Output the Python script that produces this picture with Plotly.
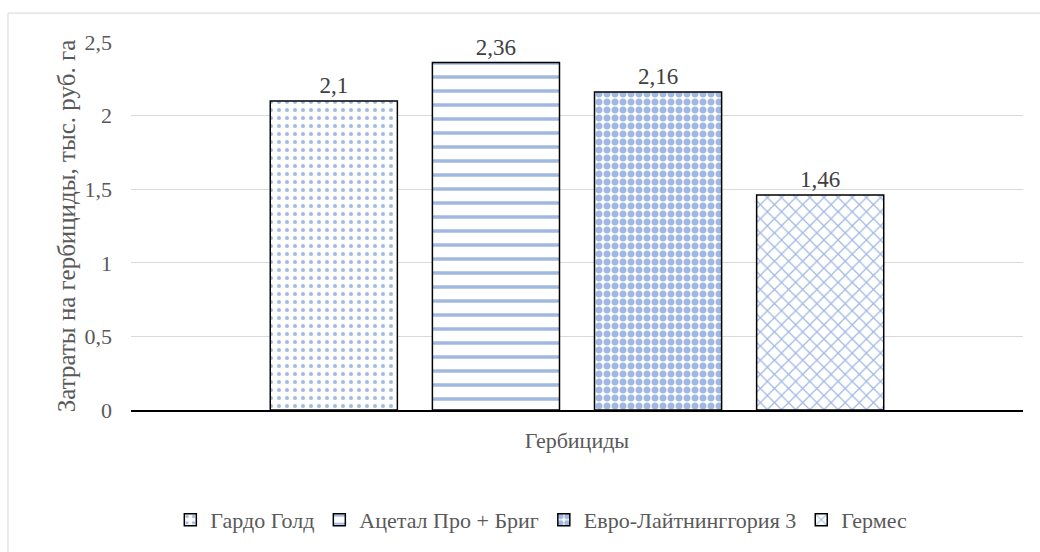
import plotly.graph_objects as go

# Herbicide costs, thousand roubles per hectare
category = ["Гербициды"]
herbicides = ["Гардо Голд", "Ацетал Про + Бриг", "Евро-Лайтнинггория 3", "Гермес"]
costs = [2.1, 2.36, 2.16, 1.46]

y_ticks = [0, 0.5, 1, 1.5, 2, 2.5]
y_title = "Затраты на гербициды, тыс. руб. га"
x_title = "Гербициды"

blue = "#4472C4"
font_family = "Liberation Serif, Times New Roman, serif"

patterns = [
    dict(shape=".", size=8, solidity=0.2),
    dict(shape="-", size=14, solidity=0.25),
    dict(shape=".", size=8, solidity=0.6),
    dict(shape="x", size=10, solidity=0.24),
]

fig = go.Figure()
for name, val, pat in zip(herbicides, costs, patterns):
    fig.add_trace(go.Bar(
        x=category,
        y=[val],
        name=name,
        marker=dict(
            color="white",
            line=dict(color="black", width=1.5),
            pattern=dict(fgcolor=blue, bgcolor="white", fillmode="overlay", **pat),
        ),
        texttemplate="%{y}",
        textposition="outside",
        textfont=dict(family=font_family, size=23, color="#404040"),
        cliponaxis=False,
    ))

fig.update_layout(
    width=1040,
    height=552,
    margin=dict(l=131, r=17, t=42, b=141),
    paper_bgcolor="white",
    plot_bgcolor="white",
    separators=", ",
    barmode="group",
    bargap=0.273,
    bargroupgap=0.216,
    font=dict(family=font_family, color="#595959", size=22),
    showlegend=True,
    legend=dict(
        orientation="h",
        x=0.46,
        xanchor="center",
        y=-0.295,
        yanchor="middle",
        font=dict(family=font_family, size=22, color="#595959"),
        itemwidth=30,
        traceorder="normal",
    ),
    xaxis=dict(
        showticklabels=False,
        showgrid=False,
        showline=True,
        linecolor="black",
        linewidth=1.5,
        title=dict(text=x_title, font=dict(size=22, color="#595959"), standoff=22),
    ),
    yaxis=dict(
        range=[0, 2.5],
        tickvals=y_ticks,
        ticktext=[str(v).replace(".", ",") for v in y_ticks],
        showgrid=True,
        gridcolor="#D9D9D9",
        gridwidth=1,
        zeroline=False,
        ticks="",
        ticklabelstandoff=18,
        tickfont=dict(size=22, color="#595959"),
        title=dict(text=y_title, font=dict(size=25, color="#595959"), standoff=1),
    ),
    shapes=[
        dict(
            type="rect", xref="paper", yref="paper",
            x0=-0.1379, x1=1.2, y0=-0.6, y1=1.0786,
            line=dict(color="#D9D9D9", width=1),
            fillcolor="rgba(0,0,0,0)",
            layer="below",
        )
    ],
)

fig.write_html("out.html")
